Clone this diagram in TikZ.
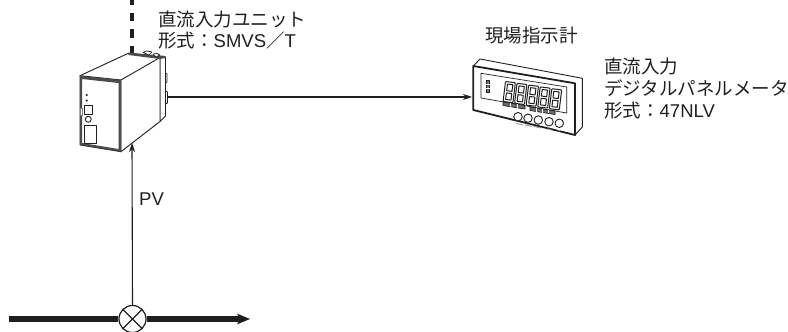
\documentclass[tikz,border=0pt]{standalone}
\usepackage{fontspec}
\setmainfont{Liberation Sans}
\newfontfamily\jpfont{Noto Sans CJK JP}
\usetikzlibrary{arrows.meta}
\colorlet{ink}{black!88}
\tikzset{
 lbl/.style={inner sep=0pt,anchor=base west,font=\fontsize{18.5}{20}\selectfont,text=ink},
 wire/.style={draw=ink,line width=1.1pt},
 arrowwire/.style={wire,-{Stealth[length=9pt,width=6pt]}},
 pipe/.style={draw=ink,line width=5.5pt},
 outl/.style={draw=ink,line width=.9pt,line join=round,fill=white},
 thin outl/.style={draw=ink,line width=.7pt,line join=round,fill=white},
 band/.style={fill=ink!80},
 seg/.style={draw=ink,line width=1pt,line join=round,fill=white},
 btn/.style={circle,draw=ink,line width=.9pt,minimum size=8.5pt,inner sep=0pt,fill=white},
 valve/.style={circle,draw=ink,line width=1.2pt,minimum size=27pt,inner sep=0pt,fill=white},
}
\newcommand{\digiteight}[2]{%
 \begin{scope}[shift={(#1,#2)},xslant=0.12,yslant=-0.12]
  \draw[seg,rounded corners=.8pt] (0,0) rectangle (10,20);
  \draw[seg] (2.3,2.3) rectangle (7.7,8.9);
  \draw[seg] (2.3,11.1) rectangle (7.7,17.7);
 \end{scope}}
\begin{document}
\begin{tikzpicture}[x=1pt,y=-1pt]
\useasboundingbox (0,0) rectangle (788,332);
\coordinate (top) at (132,0);
\coordinate (unittop) at (132,53);
\coordinate (unitright) at (166,97);
\coordinate (unitbottom) at (132,143);
\coordinate (meterleft) at (472,97);
\coordinate (pipeL) at (9,319);
\coordinate (pipeR) at (240,319);
% pipe and valve
\node[valve] (v) at (132.5,319) {};
\draw[pipe] (pipeL) -- (v.west);
\draw[pipe] (v.east) -- (pipeR);
\fill[ink] (250,319) -- (237,313.6) -- (240,319) -- (237,324.4) -- cycle;
\draw[wire] (v.north west) -- (v.south east);
\draw[wire] (v.north east) -- (v.south west);
% wires
\draw[wire,line width=3.2pt,dash pattern=on 8.5pt off 8.2pt,dash phase=4pt] (top) -- (unittop);
\draw[arrowwire] (v.north) -- (unitbottom);
\draw[arrowwire] (unitright) -- (meterleft);
% unit body
\draw[outl] (160,57.5) -- (165.5,57) -- (165.5,116) -- (160,121.5) -- cycle;
\draw[outl] (80,75.7) -- (128.3,53.3) -- (160,57.5) -- (160,121.5) -- (121,151.7) -- cycle;
\draw[outl] (121,80) -- (160,57.5);
\fill[band] (128.3,52.5) -- (165.5,56) -- (165.5,58) -- (160,59) -- (128.3,55) -- cycle;
\draw[thin outl] (143,52.5) -- (147,51) -- (152,52) -- (149,55) -- cycle;
\draw[thin outl] (153,54) -- (157,53.5) -- (160,55) -- (156,57) -- cycle;
\draw[outl] (80,75.7) -- (121,80) -- (121,151.7) -- (80,145) -- cycle;
\fill[band] (80,75.7) -- (121,80) -- (121,151.7) -- (118.5,151.3) -- (118.5,83) -- (82,79) -- (82,143) -- (118.5,149) -- (118.5,151.3) -- (80,145) -- cycle;
\draw[outl,line width=.8pt] (165.5,73) -- (167,74) -- (167,82) -- (165.5,83) -- cycle;
\draw[outl,line width=.8pt] (165.5,91) -- (167.5,92) -- (167.5,103) -- (165.5,104) -- cycle;
\fill[ink] (86.7,95) circle (1.2);
\fill[ink] (86.7,100.5) circle (1.2);
\draw[outl] (84.3,105) rectangle (92.3,114);
\draw[thin outl,draw=ink!60] (80,108) rectangle (82,115);
\draw[outl] (88.3,119.3) circle (3);
\draw[outl] (84.3,125) rectangle (96.7,143);
% meter
\draw[outl] (473.3,66) -- (480,59) -- (582.3,78.3) -- (582.3,127) -- (575,135) -- cycle;
\draw[outl,line width=1.8pt] (473.3,66) -- (575,83.3) -- (575,135) -- (473.3,110) -- cycle;
\draw[thin outl] (481,73.3) -- (566.7,87) -- (566.7,113) -- (481,98) -- cycle;
\draw[thin outl,fill=ink!60] (486,80) rectangle (489.5,92);
\draw[white,line width=.7pt] (486,84) -- (489.5,84) (486,88) -- (489.5,88);
\digiteight{505.5}{81.5}
\digiteight{517}{83.3}
\digiteight{528.6}{85.1}
\digiteight{540.2}{86.9}
\digiteight{551.8}{88.7}
\draw[thin outl,fill=ink!65] (503,102) -- (525,105.5) -- (525,109) -- (503,105.5) -- cycle;
\draw[thin outl,fill=ink!65] (530,107) -- (555,111) -- (555,114.5) -- (530,110.5) -- cycle;
\draw[white,line width=.6pt] (510,103.1) -- (510,106.6) (517.5,104.3) -- (517.5,107.8)
  (536,108) -- (536,111.5) (542,109) -- (542,112.5) (548,109.9) -- (548,113.4);
\node[btn] (b1) at (518,116.7) {};
\node[btn] (b2) at (528,118.2) {};
\node[btn] (b3) at (538.3,120) {};
\node[btn] (b4) at (549,121.7) {};
\node[btn] (b5) at (559.3,123.3) {};
\draw[ink!45,line width=.9pt] (516,123.5) -- (523,125) (525,125) -- (532,126.5) (534,126.5) -- (541,128) (547,129) -- (551,129.6) (558,130.5) -- (560,131);
% labels
\node[lbl] (t1) at (158,26) {\jpfont 直流入力ユニット};
\node[lbl] (t2) at (158,47) {\jpfont 形式：\rmfamily SMVS\jpfont ／\rmfamily T};
\node[lbl] (t3) at (485,42) {\jpfont 現場指示計};
\node[lbl] (t4) at (604,73) {\jpfont 直流入力};
\node[lbl] (t5) at (604,95) {\jpfont デジタルパネルメータ};
\node[lbl] (t6) at (604,117) {\jpfont 形式：\rmfamily 47NLV};
\node[lbl] (t7) at (139,205) {PV};
\end{tikzpicture}
\end{document}
